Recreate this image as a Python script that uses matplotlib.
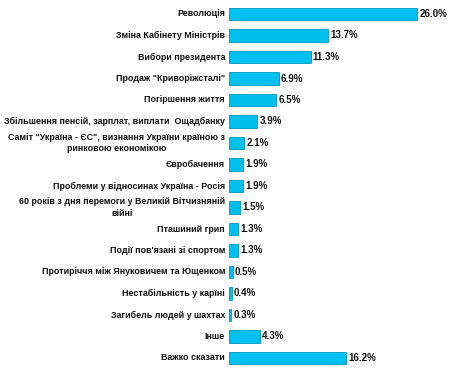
import numpy as np
import matplotlib.pyplot as plt

# data
labels = [
    "Революція",
    "Зміна Кабінету Міністрів",
    "Вибори президента",
    "Продаж \"Криворіжсталі\"",
    "Погіршення життя",
    "Збільшення пенсій, зарплат, виплати  Ощадбанку",
    "Саміт \"Україна - ЄС\", визнання України країною з\nринковою економікою",
    "Євробачення",
    "Проблеми у відносинах Україна - Росія",
    "60 років з дня перемоги у Великій Вітчизняній\nвійні",
    "Пташиний грип",
    "Події пов'язані зі спортом",
    "Протиріччя між Януковичем та Ющенком",
    "Нестабільність у карїні",
    "Загибель людей у шахтах",
    "Інше",
    "Важко сказати",
]
values = [26.0, 13.7, 11.3, 6.9, 6.5, 3.9, 2.1, 1.9, 1.9, 1.5, 1.3, 1.3, 0.5, 0.4, 0.3, 4.3, 16.2]

W, H = 450, 374
fig = plt.figure(figsize=(W / 100, H / 100), dpi=100)
x0 = 229
ax = fig.add_axes([x0 / W, 0, 1 - x0 / W, 1])

y = np.arange(len(values))
ax.barh(y, values, height=0.6, color="#00C0F0", edgecolor="#0095C0", linewidth=0.6)

pxper = 7.23  # pixels per percent
ax.set_xlim(0, (W - x0) / pxper)
ax.set_ylim((H - 14) / 21.5, -14 / 21.5)
ax.axis("off")

for i, v in enumerate(values):
    ax.text(v + 0.3, i, f"{v:.1f}%", va="center", ha="left",
            fontsize=7, fontweight="bold", family="Liberation Sans", color="#111111")
    fig.text((x0 - 4) / W, 1 - (14 + 21.5 * i) / H, labels[i], ha="right", va="center",
             multialignment="center", fontsize=6.4, fontweight="bold",
             family="Liberation Sans", color="#111111", linespacing=1.3)

fig.savefig("out.png", dpi=100)
